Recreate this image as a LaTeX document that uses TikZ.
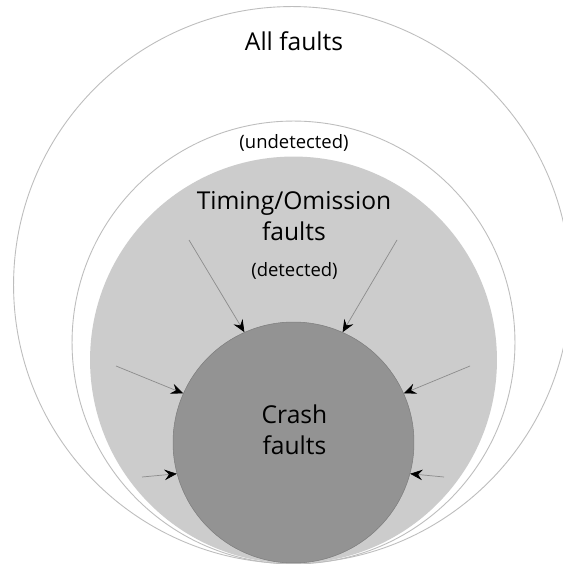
\documentclass[tikz,border=0pt]{standalone}
\usepackage{fontspec}
\setmainfont{Open Sans}
\usetikzlibrary{arrows.meta}

\definecolor{ringgray}{HTML}{BDBDBD}
\definecolor{timinggray}{HTML}{CCCCCC}
\definecolor{crashgray}{HTML}{939393}
\definecolor{feedgray}{HTML}{8C8C8C}

\begin{document}
\begin{tikzpicture}[x=0.02cm, y=-0.02cm,
		ring/.style={circle, draw=ringgray, line width=0.5pt, inner sep=0pt},
		disc/.style={circle, inner sep=0pt},
		bigtext/.style={align=center, font=\fontsize{14}{17.5}\selectfont},
		smalltext/.style={font=\fontsize{10.5}{12}\selectfont},
		feed/.style={draw=feedgray, line width=0.4pt, -{Stealth[black, length=7pt, width=6pt, inset=2.5pt]}}]
		\path[fill=white, use as bounding box] (0,0) rectangle (562,564);
		
		% fault classes, outermost first
		\node[ring, minimum size=11.14cm] 				(all)    at (292,  285) {};
		\node[ring, minimum size=8.86cm] 				(omit)   at (293.5,342.5) {};
		\node[disc, fill=timinggray, minimum size=8.14cm] (timing) at (293.5,360) {};
		\node[disc, fill=crashgray, draw=crashgray!85!black, line width=0.3pt, minimum size=4.82cm] (crash) at (293.5,442.5) {};
		
		% labels
		\node[bigtext]   (all-lbl)    at (294,  41)  {All faults};
		\node[smalltext] (undet-lbl)  at (294,  143) {(undetected)};
		\node[bigtext]   (timing-lbl) at (294,  216) {Timing/Omission\\faults};
		\node[smalltext] (det-lbl)    at (294.5,271) {(detected)};
		\node[bigtext]   (crash-lbl)  at (294.5,430) {Crash\\faults};
		
		% free ends of the arrows
		\coordinate (a1) at (189,  240);
		\coordinate (a2) at (397,  240);
		\coordinate (a3) at (116,  366);
		\coordinate (a4) at (470,  366);
		\coordinate (a5) at (142,  477);
		\coordinate (a6) at (444,  477);
		
		\draw[feed] (a1) -- (crash.114);
		\draw[feed] (a2) -- (crash.66);
		
		\draw[feed] (a3) -- (crash.156);
		\draw[feed] (a4) -- (crash.24);
		
		\draw[feed] (a5) -- (crash.195);
		\draw[feed] (a6) -- (crash.-15);
		
\end{tikzpicture}
\end{document}
